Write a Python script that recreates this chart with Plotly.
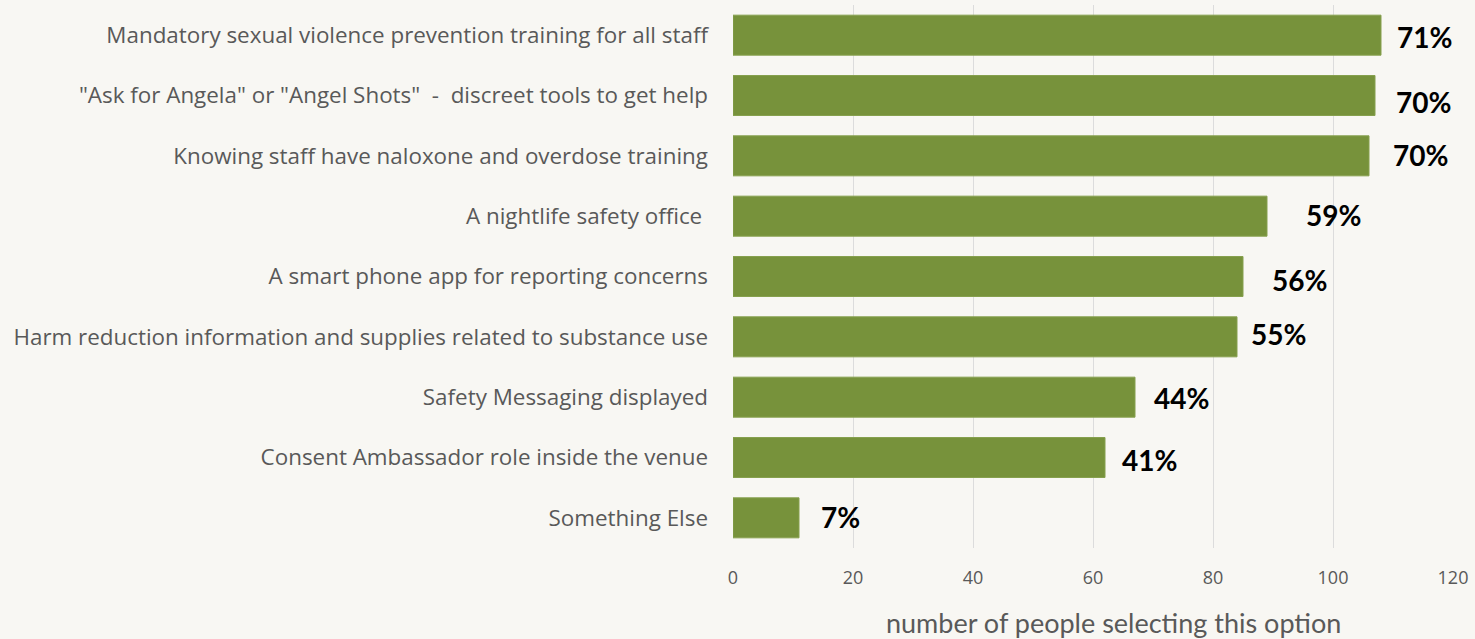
import plotly.graph_objects as go

categories = [
    "Mandatory sexual violence prevention training for all staff",
    "\"Ask for Angela\" or \"Angel Shots\"\u00a0 -\u00a0 discreet tools to get help",
    "Knowing staff have naloxone and overdose training",
    "A nightlife safety office\u00a0",
    "A smart phone app for reporting concerns",
    "Harm reduction information and supplies related to substance use",
    "Safety Messaging displayed",
    "Consent Ambassador role inside the venue",
    "Something Else",
]
counts = [108, 107, 106, 89, 85, 84, 67, 62, 11]
pct_labels = ["71%", "70%", "70%", "59%", "56%", "55%", "44%", "41%", "7%"]
x_ticks = [0, 20, 40, 60, 80, 100, 120]

# label placement tweaks (pixels) to mimic the original hand-placed labels
label_xshift = [15, 20, 23, 38, 28, 13, 18, 16, 21]
label_yshift = [-1.5, -6, 1, 1, -3.5, 3, -1, -2.5, 1]

BG = "#f8f7f3"
BAR = "#77923b"
GRAY = "#595959"

fig = go.Figure(
    go.Bar(
        x=counts,
        y=categories,
        orientation="h",
        marker=dict(color=BAR, line=dict(width=1, color="#86a04e")),
        hoverinfo="skip",
    )
)

for c, v, t, dx, dy in zip(categories, counts, pct_labels, label_xshift, label_yshift):
    fig.add_annotation(
        x=v, y=c, text=t, showarrow=False, xanchor="left", yanchor="middle",
        xshift=dx - 1, yshift=dy,
        font=dict(family="Lato", size=28, color="#000000", weight="bold"),
    )

fig.add_annotation(
    x=0.5285, y=-0.137, xref="paper", yref="paper",
    text="number of people selecting this option", showarrow=False,
    xanchor="center", yanchor="middle",
    font=dict(family="Lato", size=27, color=GRAY),
)

fig.update_layout(
    width=1475, height=639,
    paper_bgcolor=BG, plot_bgcolor=BG,
    margin=dict(l=733, r=22, t=5, b=91),
    bargap=0.337,
    showlegend=False,
    xaxis=dict(
        range=[0, 120], tickvals=x_ticks, showgrid=True, gridcolor="#dcdcdc",
        gridwidth=1, zeroline=False, showline=False, ticks="",
        tickfont=dict(family="Open Sans", size=18, color=GRAY),
        ticklabelstandoff=17, fixedrange=True,
    ),
    yaxis=dict(
        categoryorder="array", categoryarray=categories[::-1],
        showgrid=False, zeroline=False, showline=False, ticks="",
        tickfont=dict(family="Open Sans", size=22.4, color=GRAY),
        ticklabelstandoff=24, fixedrange=True,
    ),
)

fig.write_html(
    "out.html",
    config={"displayModeBar": False},
    post_script="document.body.style.margin='0';document.body.style.background='" + BG + "';",
)
